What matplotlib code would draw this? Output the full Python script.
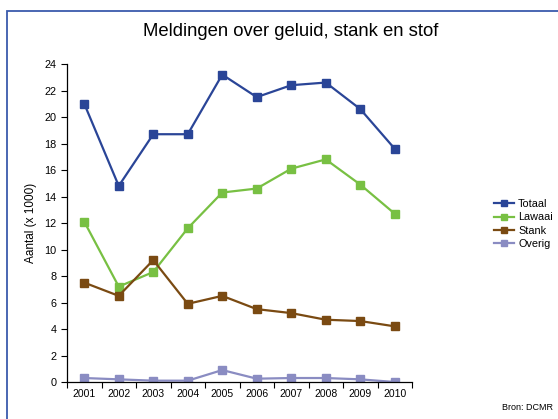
import matplotlib
matplotlib.use("Agg")
import matplotlib.pyplot as plt
from matplotlib.patches import Rectangle

plt.rcParams['font.family'] = ['Liberation Sans', 'DejaVu Sans']

years = ['2001', '2002', '2003', '2004', '2005', '2006', '2007', '2008', '2009', '2010']
totaal = [21.0, 14.8, 18.7, 18.7, 23.2, 21.5, 22.4, 22.6, 20.6, 17.6]
lawaai = [12.1, 7.2, 8.3, 11.6, 14.3, 14.6, 16.1, 16.8, 14.9, 12.7]
stank = [7.5, 6.5, 9.2, 5.9, 6.5, 5.5, 5.2, 4.7, 4.6, 4.2]
overig = [0.3, 0.2, 0.1, 0.1, 0.9, 0.25, 0.3, 0.3, 0.2, 0.0]
series_names = ['Totaal', 'Lawaai', 'Stank', 'Overig']
colors = ['#2a4597', '#78c043', '#7a4a12', '#8a8cc2']

W, H = 558, 419
fig = plt.figure(figsize=(W / 100, H / 100), dpi=100)
ax = fig.add_axes([67 / W, 1 - 382 / H, (412 - 67) / W, (382 - 64) / H])

x = list(range(len(years)))
for vals, name, c in zip([totaal, lawaai, stank, overig], series_names, colors):
    ax.plot(x, vals, color=c, lw=1.6, marker='s', ms=5.2, label=name)

ax.set_xlim(-0.5, len(years) - 0.5)
ax.set_ylim(0, 24)
ax.set_yticks(range(0, 25, 2))
ax.set_xticks(x)
ax.set_xticklabels(years)
ax.set_xticks([i - 0.5 for i in range(len(years) + 1)], minor=True)
ax.tick_params(axis='x', which='major', length=0, labelsize=7.5, pad=5)
ax.tick_params(axis='x', which='minor', length=4, direction='out', width=0.8)
ax.tick_params(axis='y', length=4, direction='out', labelsize=7.8, width=0.8)
for s in ['top', 'right']:
    ax.spines[s].set_visible(False)
for s in ['left', 'bottom']:
    ax.spines[s].set_linewidth(0.9)

ax.set_ylabel('Aantal (x 1000)', fontsize=8.5, labelpad=5)

fig.text(291 / W, 1 - 32 / H, 'Meldingen over geluid, stank en stof',
         ha='center', va='center', fontsize=13.3)

leg = fig.legend(loc='center left', bbox_to_anchor=(490 / W, 1 - 224 / H),
                 frameon=False, fontsize=7.8, handlelength=1.8,
                 handletextpad=0.4, labelspacing=0.3, borderaxespad=0)
for h in leg.legend_handles:
    h.set_markersize(4.5)

fig.text(553 / W, 1 - 407 / H, 'Bron: DCMR', ha='right', va='center', fontsize=6.5)

fig.patches.append(Rectangle((7 / W, -0.1), 1.2, 1 - 11 / H + 0.1,
                             transform=fig.transFigure, fill=False,
                             edgecolor='#3a5aad', lw=1.3, zorder=0))

fig.savefig('out.png', dpi=100)
